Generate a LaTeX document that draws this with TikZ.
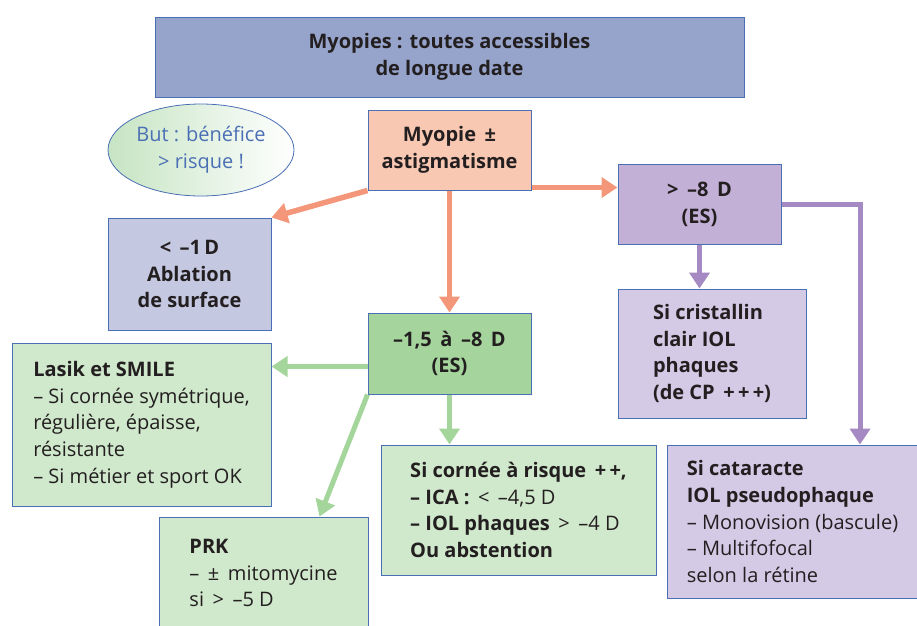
\documentclass[tikz,border=0pt]{standalone}
\usepackage{fontspec}
\setmainfont{Open Sans}
\usetikzlibrary{arrows.meta, shapes.geometric}

\definecolor{ink}{HTML}{231F20}
\definecolor{edge}{HTML}{4A6FB4}
\definecolor{titlefill}{HTML}{96A3CB}
\definecolor{salmonfill}{HTML}{F9C8B2}
\definecolor{salmonline}{HTML}{F4967A}
\definecolor{bluefill}{HTML}{C5C8E1}
\definecolor{violetfill}{HTML}{C3B0D7}
\definecolor{lilacfill}{HTML}{D4CAE5}
\definecolor{violetline}{HTML}{A589C2}
\definecolor{greenfill}{HTML}{A5D49D}
\definecolor{mintfill}{HTML}{D0E8CB}
\definecolor{greenline}{HTML}{A4D69C}
\definecolor{goalgreen}{HTML}{C6E4C3}

\begin{document}
\begin{tikzpicture}[x=1pt, y=-1pt,
  box/.style={draw=edge, line width=1pt, text=ink, inner sep=0pt, align=center,
    font=\bfseries\fontsize{20}{26.7}\selectfont},
  notebox/.style={box, align=left, font=\fontsize{20}{26.7}\selectfont},
  salmonarrow/.style={draw=salmonline, line width=5.5pt, -{Triangle[length=16pt, width=20pt]}},
  violetarrow/.style={draw=violetline, line width=5pt, -{Triangle[length=16pt, width=20pt]}},
  greenarrow/.style={draw=greenline, line width=5pt, -{Triangle[length=16pt, width=20pt]}}]
  \useasboundingbox (0,0) rectangle (917,625);

  % Draw boxes
  \node[box, fill=titlefill, minimum width=589pt, minimum height=80pt] (title) at (449.5,57)
    {Myopies : toutes accessibles\\de longue date};
  \node[ellipse, draw=edge, line width=0.8pt, left color=goalgreen, right color=white,
    minimum width=186pt, minimum height=92pt, inner sep=0pt, text=edge, align=center,
    font=\fontsize{20}{26.7}\selectfont] (goal) at (201,150) {But : bénéfice\\> risque !};
  \node[box, fill=salmonfill, minimum width=163pt, minimum height=80pt] (myopie) at (449.5,150)
    {Myopie \,±\\astigmatisme};
  \node[box, fill=bluefill, minimum width=163pt, minimum height=112pt] (moins1) at (189.5,274)
    {< \,–1\,D\\Ablation\\de surface};
  \node[box, fill=violetfill, minimum width=163pt, minimum height=80pt] (plus8) at (699.5,204)
    {> \,–8 \,D\\(ES)};
  \node[box, fill=lilacfill, align=left, minimum width=188pt, minimum height=129pt] (cristallin) at (712,353.5)
    {Si cristallin\\clair IOL\\phaques\\(de CP \,+\,+\,+)};
  \node[box, fill=greenfill, minimum width=163pt, minimum height=81pt] (es15) at (449.5,353.5)
    {–1,5 \,à \,–8 \,D\\(ES)};
  \node[notebox, fill=mintfill, minimum width=259pt, minimum height=163pt] (lasik) at (141.5,424.5)
    {\textbf{Lasik et SMILE}\\– Si cornée symétrique,\\régulière, épaisse,\\résistante\\– Si métier et sport OK};
  \node[notebox, fill=mintfill, minimum width=209pt, minimum height=112pt] (prk) at (263.5,573)
    {\textbf{PRK}\\– \,± \,mitomycine\\si \,> \,–5 D};
  \node[notebox, fill=mintfill, minimum width=275pt, minimum height=130pt] (cornee) at (518.5,510)
    {\textbf{Si cornée à risque \,+\,+,}\\\textbf{– ICA :} \,< \,–4,5 D\\\textbf{– IOL phaques} \,> \,–4 D\\\textbf{Ou abstention}};
  \node[notebox, fill=lilacfill, minimum width=251pt, minimum height=153pt] (cataracte) at (792.5,521.5)
    {\textbf{Si cataracte}\\\textbf{IOL pseudophaque}\\– Monovision (bascule)\\– Multifofocal\\selon la rétine};

  % Arrows
  \draw[salmonarrow] (myopie.south west) -- (moins1.north east);
  \draw[salmonarrow] ([yshift=3pt]myopie.south east) -- ([yshift=3pt]myopie.south east -| plus8.west);
  \draw[salmonarrow] (myopie) -- (es15);
  \coordinate (turn) at (860,204);
  \draw[violetarrow] (plus8.south) -- (plus8.south |- cristallin.north);
  \draw[violetarrow] (plus8.east) -- (turn) -- (turn |- cataracte.north);
  \draw[greenarrow] ([yshift=-13pt]es15.west) -- ([yshift=-13pt]es15.west -| lasik.east);
  \draw[greenarrow] (es15.south west) -- ([xshift=56pt]prk.north);
  \draw[greenarrow] (es15) -- (es15.south |- cornee.north);
\end{tikzpicture}
\end{document}
